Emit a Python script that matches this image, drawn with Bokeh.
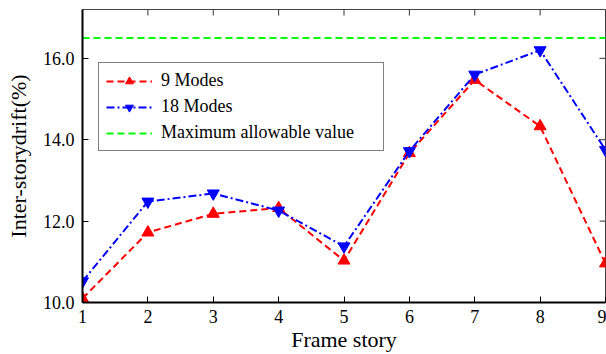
import math
from bokeh.plotting import figure
from bokeh.models import Legend, LegendItem, FixedTicker, NumeralTickFormatter, Range1d
from bokeh.embed import file_html
from bokeh.resources import INLINE

stories = [1, 2, 3, 4, 5, 6, 7, 8, 9]
modes9 = [10.1, 11.72, 12.18, 12.32, 11.03, 13.67, 15.47, 14.33, 10.96]
modes18 = [10.52, 12.48, 12.68, 12.26, 11.38, 13.72, 15.6, 16.2, 13.75]
allowable = 16.5
y_ticks = [10, 12, 14, 16]
y_min, y_max = 10, 17.2
legend_labels = ["9 Modes", "18 Modes", "Maximum allowable value"]

FONT = "Liberation Serif"

p = figure(width=606, height=354, output_backend="svg", toolbar_location=None,
           x_range=Range1d(stories[0], stories[-1]), y_range=Range1d(y_min, y_max),
           min_border_left=82, min_border_right=1, min_border_top=9, min_border_bottom=52)
p.background_fill_color = "white"
p.border_fill_color = "white"
p.outline_line_color = "#444444"
p.outline_line_width = 1
p.grid.visible = False

r_max = p.line(stories, [allowable] * len(stories), line_color="#00ff00", line_width=2, line_dash="7 4")
r9l = p.line(stories, modes9, line_color="#ff0000", line_width=2, line_dash="7 4")
r9m = p.scatter(stories, modes9, marker="triangle", size=12, fill_color="#ff0000", line_color="#ff0000")
r18l = p.line(stories, modes18, line_color="#0000ff", line_width=2, line_dash="8 3 2 3")
r18m = p.scatter(stories, modes18, marker="inverted_triangle", size=12, fill_color="#0000ff", line_color="#0000ff")

# inward ticks on top and right edges of the frame
p.scatter(stories, [y_max] * len(stories), marker="dash", angle=math.pi / 2, size=12,
          line_color="#333333", line_width=1)
p.scatter([stories[-1]] * len(y_ticks), y_ticks, marker="dash", size=12,
          line_color="#333333", line_width=1)

for ax in (p.xaxis[0], p.yaxis[0]):
    ax.axis_line_width = 2
    ax.axis_line_color = "black"
    ax.major_tick_in = 6
    ax.major_tick_out = 0
    ax.minor_tick_in = 0
    ax.minor_tick_out = 0
    ax.major_tick_line_color = "black"
    ax.major_label_text_font = FONT
    ax.major_label_text_font_size = "18px"
    ax.major_label_text_color = "black"
    ax.axis_label_text_font = FONT
    ax.axis_label_text_font_size = "22px"
    ax.axis_label_text_font_style = "normal"
    ax.axis_label_text_color = "black"

p.xaxis[0].ticker = FixedTicker(ticks=stories)
p.xaxis[0].axis_label = "Frame story"
p.xaxis[0].major_label_standoff = 7
p.xaxis[0].axis_label_standoff = 1
p.yaxis[0].ticker = FixedTicker(ticks=y_ticks)
p.yaxis[0].formatter = NumeralTickFormatter(format="0.0")
p.yaxis[0].axis_label = "Inter-storydrift(%)"
p.yaxis[0].major_label_standoff = 8
p.yaxis[0].axis_label_standoff = 9

legend = Legend(items=[
    LegendItem(label=legend_labels[0], renderers=[r9l, r9m]),
    LegendItem(label=legend_labels[1], renderers=[r18l, r18m]),
    LegendItem(label=legend_labels[2] + "\u00a0" * 5, renderers=[r_max]),
], location=(16, 151))
legend.label_text_font = FONT
legend.label_text_font_size = "18px"
legend.label_text_color = "black"
legend.border_line_color = "black"
legend.border_line_width = 1
legend.background_fill_alpha = 1
legend.glyph_width = 46
legend.glyph_height = 20
legend.label_height = 20
legend.spacing = 5
legend.padding = 7
legend.margin = 0
legend.label_standoff = 9
p.add_layout(legend, "center")

open("out.html", "w").write(file_html(p, INLINE))
